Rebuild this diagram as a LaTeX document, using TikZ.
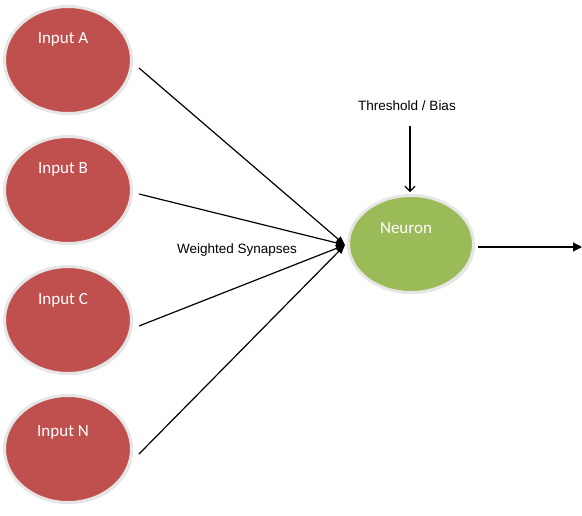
\documentclass[tikz,border=0pt]{standalone}
\usepackage{fontspec}
\setmainfont{Liberation Sans}
\newfontfamily\calib{Carlito}
\usetikzlibrary{shapes.geometric,arrows.meta,shadows}
\definecolor{inred}{HTML}{C0504D}
\definecolor{neugreen}{HTML}{9BBB59}
\definecolor{ringgray}{HTML}{E6E6E6}
\tikzset{
  ball/.style={ellipse, inner sep=0pt, draw=ringgray, line width=3pt,
    drop shadow={shadow xshift=1.2pt, shadow yshift=-1.2pt, opacity=0.4, fill=gray}},
  inball/.style={ball, fill=inred, minimum width=127pt, minimum height=107pt},
  neuball/.style={ball, fill=neugreen, minimum width=125pt, minimum height=97pt},
  balltext/.style={text=white, font=\calib\fontsize{17}{20}\selectfont, inner sep=0pt},
  lbl/.style={font=\fontsize{13.5}{16}\selectfont, inner sep=0pt},
  syn/.style={line width=1.2pt, -{Triangle[length=9pt,width=7pt]}},
  bias/.style={line width=1.1pt, -{Straight Barb[length=5pt,width=10pt]}},
  outarrow/.style={line width=1.2pt, -{Triangle[length=9pt,width=9pt]}}
}
\begin{document}
\begin{tikzpicture}[x=1pt,y=-1pt]
\useasboundingbox (0,0) rectangle (582,515);
\node[inball] (A) at (68,60) {};
\node[inball] (B) at (68,190) {};
\node[inball] (C) at (68,320) {};
\node[inball] (N) at (68,449) {};
\node[neuball] (neu) at (411,244) {};
\node[balltext] (tA) at (63,39) {Input A};
\node[balltext] (tB) at (63,169) {Input B};
\node[balltext] (tC) at (63,300) {Input C};
\node[balltext] (tN) at (63,432) {Input N};
\node[balltext] (tneu) at (406,228) {Neuron};
\node[lbl] (bias) at (407,106) {Threshold / Bias};
\node[lbl] (ws) at (237,250) {Weighted Synapses};
\coordinate (j) at (345,245);
\coordinate (biasstart) at (410,126);
\coordinate (biasend) at (410,192);
\coordinate (outstart) at (478,247);
\coordinate (out) at (582,247);
\coordinate (sA) at (139,68);
\coordinate (sB) at (139,194);
\coordinate (sC) at (139,326);
\coordinate (sN) at (139,454);
\draw[syn] (sA) -- (j);
\draw[syn] (sB) -- (j);
\draw[syn] (sC) -- (j);
\draw[syn] (sN) -- (j);
\draw[bias] (biasstart) -- (biasend);
\draw[outarrow] (outstart) -- (out);
\end{tikzpicture}
\end{document}
